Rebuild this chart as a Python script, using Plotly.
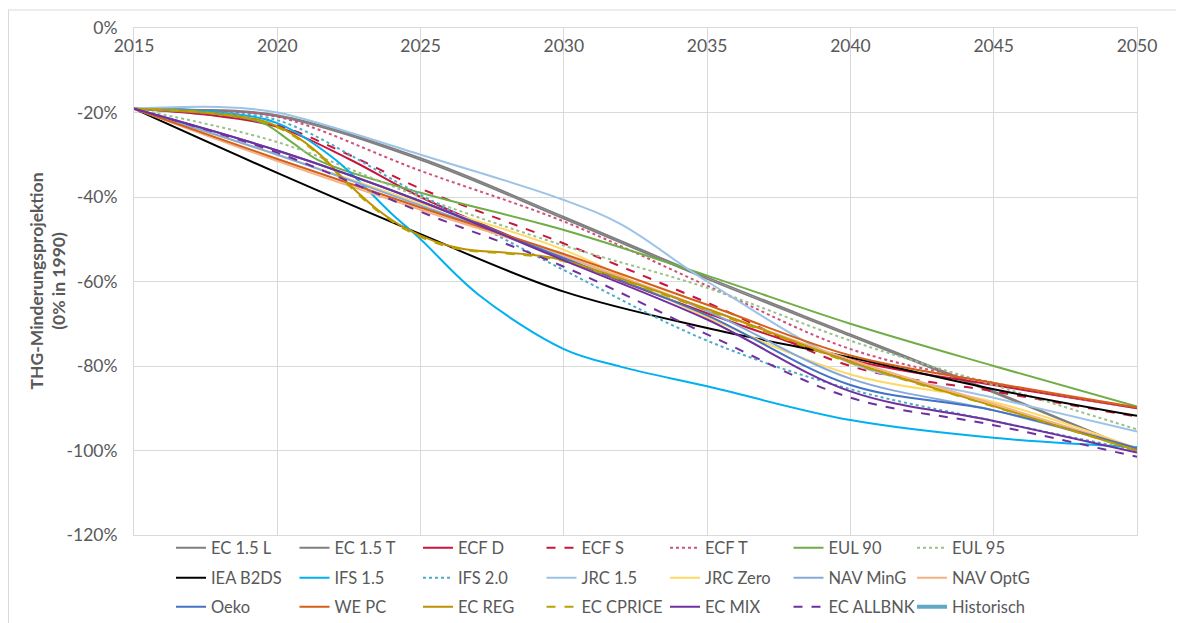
import plotly.graph_objects as go

# ---------------- data ----------------
Y5 = [2015, 2020, 2025, 2030, 2035, 2040, 2045, 2050]

ec15l_x = [2015, 2017, 2020, 2025, 2030, 2035, 2040, 2045, 2050]
ec15l_y = [-19.1, -19.3, -20.6, -30.8, -44.7, -59.0, -72.5, -86.0, -100.0]
ec15t_x = [2015, 2017, 2020, 2025, 2030, 2035, 2040, 2045, 2050]
ec15t_y = [-19.1, -19.4, -20.9, -31.2, -45.1, -59.4, -72.9, -86.3, -100.0]
ecfd_x = [2015, 2017.5, 2020, 2022.5, 2025, 2030, 2035, 2040, 2045, 2050]
ecfd_y = [-19.1, -20.5, -23.4, -31.0, -40.0, -54.5, -67.5, -78.5, -84.5, -90.0]
ecfs_x = [2015, 2017.5, 2020, 2022.5, 2025, 2030, 2035, 2040, 2045, 2050]
ecfs_y = [-19.1, -20.4, -23.0, -30.0, -38.0, -51.0, -65.0, -80.0, -86.0, -92.0]
ecft_x = [2015, 2017.5, 2020, 2025, 2030, 2035, 2040, 2045, 2050]
ecft_y = [-19.1, -19.8, -21.0, -33.8, -45.8, -61.0, -76.0, -84.0, -90.0]
eul90_x = [2015, 2018, 2019.5, 2020.5, 2021.5, 2025, 2030, 2035, 2040, 2045, 2050]
eul90_y = [-19.1, -20.5, -22.5, -27.0, -31.5, -39.0, -47.8, -58.6, -70.0, -80.0, -89.6]
eul95_y = [-19.1, -27.0, -40.0, -51.5, -61.5, -74.0, -84.5, -95.0]
iea_y = [-19.1, -34.3, -48.8, -62.4, -71.0, -78.0, -85.5, -91.8]
ifs15_x = [2015, 2018, 2020, 2022, 2024, 2025, 2027, 2030, 2032, 2035, 2040, 2045, 2050]
ifs15_y = [-19.1, -20.0, -22.5, -31.0, -44.0, -50.0, -63.0, -76.0, -80.2, -84.8, -92.8, -97.0, -99.2]
ifs20_x = [2015, 2017.5, 2020, 2025, 2030, 2035, 2040, 2045, 2050]
ifs20_y = [-19.1, -20.0, -21.8, -39.5, -57.3, -74.0, -85.5, -93.0, -100.0]
jrc15_x = [2015, 2018, 2020, 2025, 2030, 2032, 2035, 2040, 2045, 2050]
jrc15_y = [-19.1, -18.7, -20.0, -30.0, -40.7, -46.5, -60.0, -79.3, -87.5, -95.5]
jrczero_y = [-19.1, -30.0, -41.5, -52.5, -68.5, -82.0, -88.5, -99.5]
navming_y = [-19.1, -30.0, -42.0, -54.0, -67.0, -83.0, -90.5, -99.5]
navoptg_y = [-19.1, -31.5, -43.0, -54.0, -66.5, -78.5, -89.0, -99.5]
oeko_y = [-19.1, -29.0, -41.0, -54.5, -68.0, -84.5, -90.5, -99.5]
wepc_y = [-19.1, -31.0, -42.5, -53.5, -65.5, -77.5, -84.0, -89.8]
ecreg_x = [2015, 2017.5, 2019.5, 2020.5, 2021.5, 2022.5, 2023.5, 2024.5, 2025.5, 2026.5,
           2028, 2029, 2030, 2035, 2040, 2045, 2050]
ecreg_y = [-19.1, -20.0, -22.0, -25.0, -30.0, -37.0, -43.0, -47.5, -50.5, -52.3,
           -53.2, -53.8, -55.0, -66.5, -79.0, -89.5, -100.0]
eccprice_y = [-19.1, -20.0, -22.2, -25.3, -30.3, -37.3, -43.3, -47.8, -50.8, -52.5,
              -53.4, -54.0, -55.2, -66.8, -79.2, -89.6, -100.0]
ecmix_y = [-19.1, -29.0, -41.0, -55.0, -69.0, -86.0, -93.0, -100.5]
ecallbnk_y = [-19.1, -29.5, -43.5, -56.5, -72.5, -87.5, -94.0, -101.5]
hist_x = [2015]
hist_y = [-19.1]

Y_TICKS = [0, -20, -40, -60, -80, -100, -120]
Y_TICKTEXT = ["0%", "-20%", "-40%", "-60%", "-80%", "-100%", "-120%"]
X_TICKS = [2015, 2020, 2025, 2030, 2035, 2040, 2045, 2050]

# name, x, y, color, dash, width, legend row
series = [
    ("EC 1.5 L", ec15l_x, ec15l_y, "#7f7f7f", "solid", 1.8, "legend"),
    ("EC 1.5 T", ec15t_x, ec15t_y, "#7f7f7f", "solid", 1.8, "legend"),
    ("ECF D", ecfd_x, ecfd_y, "#c8163f", "solid", 2, "legend"),
    ("ECF S", ecfs_x, ecfs_y, "#c8163f", "dash", 2, "legend"),
    ("ECF T", ecft_x, ecft_y, "#d0507a", "dot", 2, "legend"),
    ("EUL 90", eul90_x, eul90_y, "#70ad47", "solid", 2, "legend"),
    ("EUL 95", Y5, eul95_y, "#9cc08a", "dot", 2, "legend"),
    ("IEA B2DS", Y5, iea_y, "#000000", "solid", 2, "legend2"),
    ("IFS 1.5", ifs15_x, ifs15_y, "#00b0f0", "solid", 2, "legend2"),
    ("IFS 2.0", ifs20_x, ifs20_y, "#4bacc6", "dot", 2, "legend2"),
    ("JRC 1.5", jrc15_x, jrc15_y, "#9dc3e6", "solid", 2, "legend2"),
    ("JRC Zero", Y5, jrczero_y, "#ffd966", "solid", 2, "legend2"),
    ("NAV MinG", Y5, navming_y, "#84aadb", "solid", 2, "legend2"),
    ("NAV OptG", Y5, navoptg_y, "#f4b183", "solid", 2, "legend2"),
    ("Oeko", Y5, oeko_y, "#4472c4", "solid", 2, "legend3"),
    ("WE PC", Y5, wepc_y, "#d35f1a", "solid", 2, "legend3"),
    ("EC REG", ecreg_x, ecreg_y, "#bf9000", "solid", 2, "legend3"),
    ("EC CPRICE", ecreg_x, eccprice_y, "#b8a200", "dash", 2, "legend3"),
    ("EC MIX", Y5, ecmix_y, "#7030a0", "solid", 2, "legend3"),
    ("EC ALLBNK", Y5, ecallbnk_y, "#7030a0", "dash", 2, "legend3"),
    ("Historisch", hist_x, hist_y, "#5fa9c7", "solid", 4, "legend3"),
]

FONT = "Lato, 'Open Sans', sans-serif"
GRAY = "#595959"
GRID = "#d9d9d9"

fig = go.Figure()
for name, xs, ys, col, dash, w, leg in series:
    fig.add_trace(go.Scatter(
        x=xs, y=ys, name=name, mode="lines",
        line=dict(color=col, dash=dash, width=w, shape="spline", smoothing=1.0),
        legend=leg,
    ))

# page body has an 8px margin; figure placed so that it reaches the window edges
OFF = 8
W, H = 1176, 615
L, T = 134 - OFF, 28 - OFF
R = W - (1137 - OFF)
B = H - (535 - OFF)
pw = W - L - R
ph = H - T - B

def px_x(sx):
    return (sx - OFF - L) / pw

def px_y(sy):
    return (H - B - (sy - OFF)) / ph

leg_common = dict(
    orientation="h", xanchor="left", yanchor="middle",
    font=dict(family=FONT, size=16.5, color=GRAY),
    bgcolor="rgba(0,0,0,0)", entrywidth=78.5, entrywidthmode="pixels",
    itemwidth=30, tracegroupgap=0,
)
LEG_X = px_x(171)
fig.update_layout(
    width=W, height=H,
    margin=dict(l=L, r=R, t=T, b=B, autoexpand=False),
    paper_bgcolor="white", plot_bgcolor="white",
    font=dict(family=FONT, color=GRAY),
    showlegend=True,
    legend=dict(x=LEG_X, y=px_y(548), **leg_common),
    legend2=dict(x=LEG_X, y=px_y(578), **leg_common),
    legend3=dict(x=LEG_X, y=px_y(607), **leg_common),
    xaxis=dict(
        range=[2015, 2050], tickvals=X_TICKS, side="top",
        ticklabelposition="inside", ticklabeloverflow="allow",
        ticks="inside", ticklen=12, tickcolor="rgba(0,0,0,0)",
        showgrid=True, gridcolor=GRID, gridwidth=1,
        showline=True, linecolor=GRID, mirror=True, zeroline=False,
        tickfont=dict(family=FONT, size=17.5, color=GRAY),
    ),
    yaxis=dict(
        range=[-120, 0], tickvals=Y_TICKS, ticktext=Y_TICKTEXT,
        ticks="outside", ticklen=12, tickcolor="rgba(0,0,0,0)",
        showgrid=True, gridcolor=GRID, gridwidth=1,
        showline=True, linecolor=GRID, mirror=True, zeroline=False,
        tickfont=dict(family=FONT, size=17.5, color=GRAY),
    ),
    annotations=[dict(
        text="<b>THG-Minderungsprojektion<br>(0% in 1990)</b>",
        x=px_x(47), y=0.5, xref="paper", yref="paper",
        xanchor="center", yanchor="middle",
        textangle=-90, showarrow=False,
        font=dict(family=FONT, size=17.5, color=GRAY),
    )],
    shapes=[
        dict(type="line", xref="paper", yref="paper",
             x0=px_x(8), x1=px_x(1184), y0=px_y(10), y1=px_y(10),
             line=dict(color=GRID, width=1)),
        dict(type="line", xref="paper", yref="paper",
             x0=px_x(8.5), x1=px_x(8.5), y0=px_y(10), y1=px_y(623),
             line=dict(color=GRID, width=1)),
    ],
)

fig.write_html("out.html")
